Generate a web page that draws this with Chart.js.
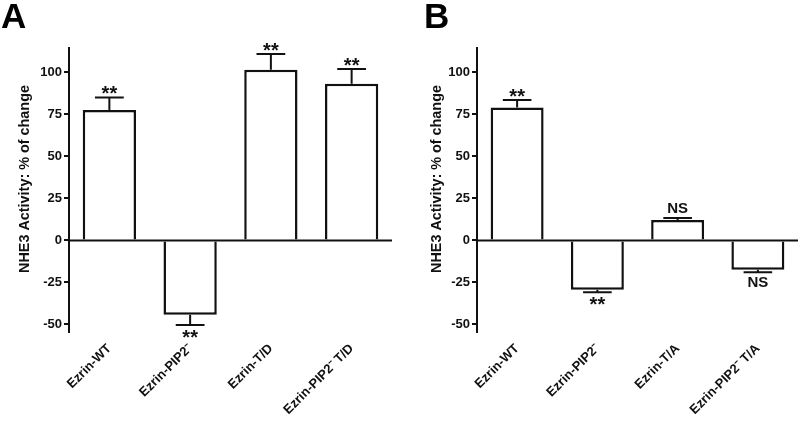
<!DOCTYPE html>
<html>
<head>
<meta charset="utf-8">
<script src="https://cdn.jsdelivr.net/npm/chart.js@4.4.1/dist/chart.umd.min.js"></script>
<style>
  html, body { margin: 0; padding: 0; background: #ffffff; }
  #wrap { position: relative; width: 800px; height: 421px; overflow: hidden; background: #fff; }
  canvas { position: absolute; top: 0; }
  #cA { left: 0; }
  #cB { left: 400px; }
</style>
</head>
<body>
<div id="wrap">
  <canvas id="cA" width="400" height="421"></canvas>
  <canvas id="cB" width="400" height="421"></canvas>
</div>
<script>
// ---- data ----
const categoriesA = ['Ezrin-WT', 'Ezrin-PIP2\u207B', 'Ezrin-T/D', 'Ezrin-PIP2\u207B T/D'];
const valuesA = [77.6, -44.3, 101.5, 93.2];
const errorsA = [7.5, 6.1, 9.5, 8.8];
const marksA = ['**', '**', '**', '**'];

const categoriesB = ['Ezrin-WT', 'Ezrin-PIP2\u207B', 'Ezrin-T/A', 'Ezrin-PIP2\u207B T/A'];
const valuesB = [79.1, -29.4, 12.1, -17.5];
const errorsB = [4.4, 1.4, 1.2, 1.5];
const marksB = ['**', '**', 'NS', 'NS'];

const yTicks = [-50, -25, 0, 25, 50, 75, 100];
const yMin = -54.5;
const yMax = 114.5;
const yTitle = 'NHE3 Activity: % of change';

// ---- styling ----
const FONT = '"Liberation Sans", Arial, Helvetica, sans-serif';
const INK = '#111111';

function annotPlugin(errors, marks, letter, letterX, titleX) {
  return {
    id: 'annot',
    afterDatasetsDraw(chart) {
      const { ctx, chartArea } = chart;
      const ys = chart.scales.y;
      const y0 = ys.getPixelForValue(0);
      ctx.save();
      ctx.strokeStyle = INK;
      ctx.lineWidth = 2;
      // zero line
      ctx.beginPath();
      ctx.moveTo(chartArea.left, y0);
      ctx.lineTo(chartArea.right, y0);
      ctx.stroke();
      const meta = chart.getDatasetMeta(0);
      const vals = chart.data.datasets[0].data;
      ctx.fillStyle = INK;
      meta.data.forEach((el, i) => {
        const v = vals[i];
        const sign = v >= 0 ? 1 : -1;
        const yb = ys.getPixelForValue(v);
        const ye = ys.getPixelForValue(v + sign * errors[i]);
        const half = el.width * 0.27;
        ctx.beginPath();
        ctx.moveTo(el.x, yb);
        ctx.lineTo(el.x, ye);
        ctx.moveTo(el.x - half, ye);
        ctx.lineTo(el.x + half, ye);
        ctx.stroke();
        const m = marks[i];
        ctx.textAlign = 'center';
        ctx.textBaseline = 'alphabetic';
        if (m === '**') {
          ctx.font = 'bold 20px ' + FONT;
          ctx.fillText(m, el.x, sign > 0 ? ye + 3 : ye + 18.5);
        } else {
          ctx.font = 'bold 15px ' + FONT;
          ctx.fillText(m, el.x, sign > 0 ? ye - 5 : ye + 15);
        }
      });
      ctx.restore();
    },
    afterDraw(chart) {
      const { ctx } = chart;
      ctx.save();
      ctx.fillStyle = '#000';
      ctx.font = 'bold 35px ' + FONT;
      ctx.textAlign = 'left';
      ctx.textBaseline = 'alphabetic';
      ctx.fillText(letter, letterX, 28);
      ctx.translate(titleX, 179);
      ctx.rotate(-Math.PI / 2);
      ctx.font = 'bold 14.4px ' + FONT;
      ctx.textAlign = 'center';
      ctx.textBaseline = 'middle';
      ctx.fillStyle = INK;
      ctx.fillText(yTitle, 0, 0);
      ctx.restore();
    }
  };
}

function makeChart(id, cats, vals, errs, marks, letter, letterX, titleX, leftW, padRight) {
  return new Chart(document.getElementById(id), {
    type: 'bar',
    data: {
      labels: cats,
      datasets: [{
        data: vals,
        backgroundColor: '#ffffff',
        borderColor: INK,
        borderWidth: 2.5,
        borderSkipped: 'start',
        categoryPercentage: 1.0,
        barPercentage: 0.66
      }]
    },
    options: {
      responsive: false,
      animation: false,
      devicePixelRatio: 1,
      layout: { padding: { top: 48, right: padRight, left: 0, bottom: 0 } },
      plugins: { legend: { display: false }, tooltip: { enabled: false } },
      scales: {
        x: {
          grid: { display: false, drawTicks: false },
          border: { display: false },
          ticks: {
            autoSkip: false,
            minRotation: 45,
            maxRotation: 45,
            padding: 9,
            color: INK,
            font: { family: FONT, size: 13, weight: 'bold' }
          },
          afterFit(scale) { scale.height = 89; }
        },
        y: {
          min: yMin,
          max: yMax,
          grid: { display: true, drawOnChartArea: false, drawTicks: true, tickLength: 5, color: INK, lineWidth: 2 },
          border: { display: true, color: INK, width: 2 },
          ticks: {
            padding: 2,
            color: INK,
            font: { family: FONT, size: 13, weight: 'bold' }
          },
          afterBuildTicks(scale) { scale.ticks = yTicks.map(v => ({ value: v })); },
          afterFit(scale) { scale.width = leftW; }
        }
      }
    },
    plugins: [annotPlugin(errs, marks, letter, letterX, titleX)]
  });
}

makeChart('cA', categoriesA, valuesA, errorsA, marksA, 'A', 1, 25.5, 69, 8);
makeChart('cB', categoriesB, valuesB, errorsB, marksB, 'B', 24, 37.5, 77, 2);
</script>
</body>
</html>
